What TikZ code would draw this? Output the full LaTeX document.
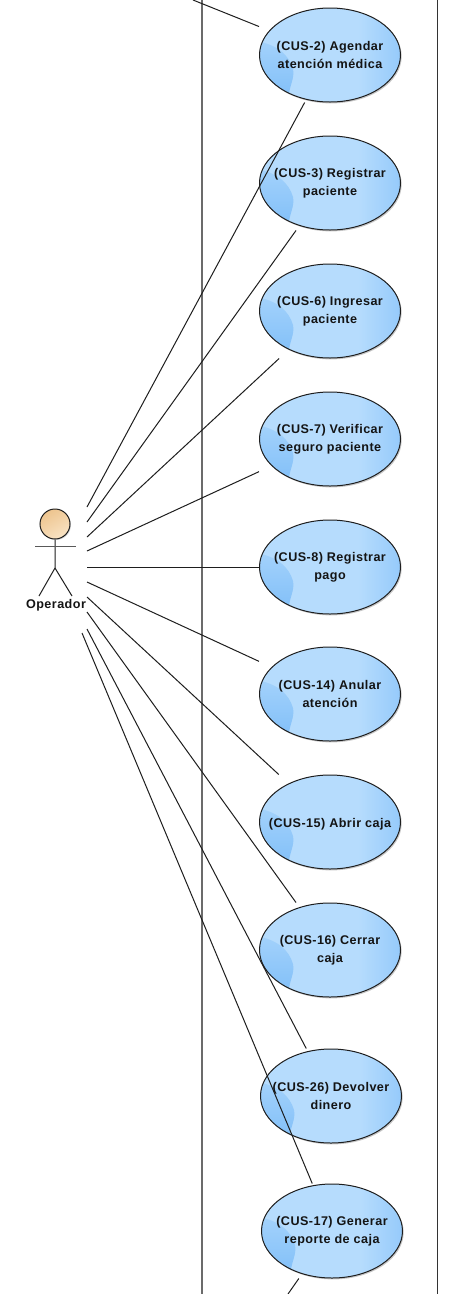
\documentclass[tikz,border=0pt]{standalone}
\usepackage{fontspec}
\setmainfont[LetterSpace=3.6]{Liberation Sans}
\usetikzlibrary{shapes.geometric,shadows}
\definecolor{ucmid}{HTML}{B6DCFD}
\definecolor{ucright}{HTML}{82BFF9}
\definecolor{ucwr}{HTML}{7FBEF8}
\definecolor{headA}{HTML}{F9E3C4}
\definecolor{headB}{HTML}{EDC48E}
\definecolor{linedark}{HTML}{1E1E1E}
\pgfdeclarehorizontalshading{ucshade}{100bp}{color(0bp)=(ucmid);color(60bp)=(ucmid);color(84bp)=(ucright);color(100bp)=(ucright)}
\tikzset{
  x=1pt,y=-1pt,
  usecase/.style={ellipse,draw=linedark,line width=1pt,minimum width=141pt,minimum height=94pt,inner xsep=-30pt,inner ysep=0pt,outer sep=0pt,
    shading=ucshade,
    drop shadow={shadow xshift=1.2pt,shadow yshift=-1.4pt,fill=black,opacity=0.22},
    align=center,font=\fontsize{12.6}{18}\selectfont\bfseries,text=black!92,
    execute at begin node={\rule{0pt}{14pt}},
    path picture={
      \shade[top color=ucmid,bottom color=ucwr]
        ([xshift=-75pt,yshift=14pt]path picture bounding box.center)
        .. controls +(22pt,-3pt) and +(-4pt,14pt) .. ([xshift=-37pt,yshift=-14pt]path picture bounding box.center)
        .. controls +(2pt,-9pt) and +(0pt,8pt) .. ([xshift=-41pt,yshift=-40pt]path picture bounding box.center)
        -- ([xshift=-75pt,yshift=-40pt]path picture bounding box.center) -- cycle;
    }},
  ucbox/.style={rectangle,minimum width=141pt,minimum height=94pt,inner sep=0pt,outer sep=0.5pt},
  assoc/.style={draw=linedark,line width=1pt},
  actorline/.style={draw=linedark,line width=1pt},
  boundary/.style={draw=black!58,line width=1.3pt},
}
\begin{document}
\begin{tikzpicture}
\useasboundingbox (0,0) rectangle (468,1294);
\fill[white] (0,0) rectangle (468,1294);
\coordinate (bLtop) at (202,0); \coordinate (bLbot) at (202,1294);
\coordinate (bRtop) at (437,0); \coordinate (bRbot) at (437,1294);
\draw[boundary] (bLtop) -- (bLbot);
\draw[draw=black!80,line width=0.9pt] (bRtop) -- (bRbot);
% actor
\node[circle,draw=linedark,line width=1pt,minimum size=30pt,inner sep=0pt,shading=axis,left color=headB,right color=headA,shading angle=30,drop shadow={shadow xshift=1pt,shadow yshift=-1pt,fill=black,opacity=0.15}] (head) at (55,524) {};
\coordinate (armL) at (35,546); \coordinate (armR) at (76,546);
\coordinate (hip) at (55,568); \coordinate (footL) at (39,596); \coordinate (footR) at (72,596);
\draw[actorline] (head.south) -- (hip) -- (footL);
\draw[actorline] (hip) -- (footR);
\draw[draw=black!65,line width=1pt] (armL) -- (armR);
\node[font=\fontsize{12.6}{14}\selectfont\bfseries,text=black!92,inner sep=0pt] (oper) at (56,605) {Operador};
% use cases
\node[usecase] (u2) at (330,55) {(CUS-2) Agendar\\atención médica};
\node[usecase] (u3) at (330,183) {(CUS-3) Registrar\\paciente};
\node[usecase] (u6) at (330,311) {(CUS-6) Ingresar\\paciente};
\node[usecase] (u7) at (330,439) {(CUS-7) Verificar\\seguro paciente};
\node[usecase] (u8) at (330,567) {(CUS-8) Registrar\\pago};
\node[usecase] (u14) at (330,694) {(CUS-14) Anular\\atención};
\node[usecase] (u15) at (330,822) {(CUS-15) Abrir caja};
\node[usecase] (u16) at (330,950) {(CUS-16) Cerrar\\caja};
\node[usecase] (u26) at (331,1096) {(CUS-26) Devolver\\dinero};
\node[usecase] (u17) at (332,1231) {(CUS-17) Generar\\reporte de caja};
% connector end boxes, same place as the ellipses
\foreach \n in {2,3,6,7,8,14,15,16,26,17} \node[ucbox] (b\n) at (u\n.center) {};
% ports
\coordinate (p2) at (87,507); \coordinate (p3) at (87,522); \coordinate (p6) at (87,537);
\coordinate (p7) at (87,551); \coordinate (p8) at (87,567); \coordinate (p14) at (87,582);
\coordinate (p15) at (87,597); \coordinate (p16) at (87,612); \coordinate (p26) at (87,629);
\coordinate (p17) at (82,633);
\coordinate (top) at (193,0); \coordinate (bot) at (288,1294);
\foreach \n in {2,3,6,7,8,14,15,16,26,17} \draw[assoc] (p\n) -- (b\n);
\draw[assoc] (top) -- (b2);
\draw[assoc] (bot) -- (b17);
\end{tikzpicture}
\end{document}
